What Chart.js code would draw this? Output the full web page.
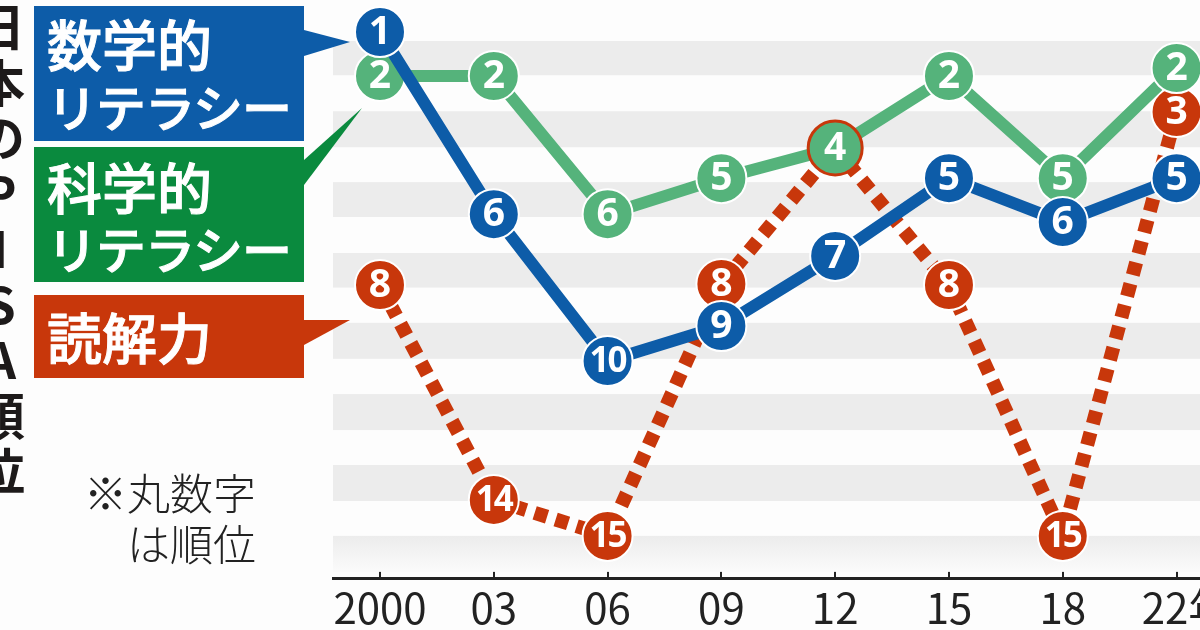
<!DOCTYPE html>
<html lang="ja">
<head>
<meta charset="utf-8">
<title>日本のPISA順位</title>
<script src="https://cdn.jsdelivr.net/npm/chart.js@4/dist/chart.umd.min.js"></script>
<style>
  html, body { margin: 0; padding: 0; background: #fdfdfd; }
  #wrap { position: relative; width: 1200px; height: 630px; overflow: hidden; font-family: "Noto Sans CJK JP", sans-serif; }
  #chart { position: absolute; left: 0; top: 0; }
  .box { position: absolute; left: 34px; width: 270px; color: #fff; font-weight: 500; }
  .box span { position: absolute; left: 13px; white-space: nowrap; font-size: 55px; line-height: 62px; -webkit-text-stroke: 1px #fff; }
  .box span.kata { font-size: 50px; letter-spacing: -1px; }
  .tail { position: absolute; left: 304px; width: 70px; height: 100px; }
  #title { position: absolute; left: -30px; top: 2px; writing-mode: vertical-rl; text-orientation: upright;
           font-size: 50px; font-weight: 700; line-height: 60px; letter-spacing: 5.5px; color: #1d1a1a; white-space: nowrap; }
  .note { position: absolute; font-size: 43px; font-weight: 300; color: #222; white-space: nowrap; line-height: 50px; }
</style>
</head>
<body>
<div id="wrap">
  <canvas id="chart" width="1200" height="630"></canvas>
  <div id="title">日本のPISA順位</div>

  <div class="box" style="top:6px;height:135px;background:#0d5ca8">
    <span style="top:5px">数学的</span><span class="kata" style="top:68px">リテラシー</span>
  </div>
  <div class="tail" style="top:20px;background:#0d5ca8;clip-path:polygon(0 10px,46px 22px,0 36px)"></div>

  <div class="box" style="top:147px;height:135px;background:#0a8a3e">
    <span style="top:7px">科学的</span><span class="kata" style="top:69px">リテラシー</span>
  </div>
  <div class="tail" style="top:100px;background:#0a8a3e;clip-path:polygon(0 60px,58px 8px,0 85px)"></div>

  <div class="box" style="top:295px;height:83px;background:#c8370b">
    <span style="top:9px">読解力</span>
  </div>
  <div class="tail" style="top:300px;background:#c8370b;clip-path:polygon(0 20px,46px 20px,0 45px)"></div>

  <div class="note" style="left:84px;top:466px">※丸数字</div>
  <div class="note" style="left:127px;top:517px">は順位</div>
</div>

<script>
const years = ['2000', '03', '06', '09', '12', '15', '18', '  22年'];

// Heights on a rank axis. The artist nudged some circles,
// so they are not whole numbers; the number inside each circle is the rounded rank.
const mathRanks = [1, 6.06, 10.14, 9.17, 7.22, 5.06, 6.28, 5.06];
const scienceRanks = [2.22, 2.22, 6.06, 5.06, 4.22, 2.22, 5.06, 2];
const readingRanks = [8.03, 14, 15, 8, 4.22, 8.03, 15, 3.22];

// Grey stripes behind the lines, in rank units [from, to]
const bands = [[1.25, 2.2], [3.2, 4.2], [5.17, 6.14], [7.14, 8.1], [9.08, 10.08], [11.06, 12.06], [13.03, 14.03]];
const fadedBand = [15, 16];

const BLUE = '#0d5ca8';
const GREEN = '#55b37b';
const RED = '#c8370b';
const INK = '#222';

const stripes = {
    id: 'stripes',
    beforeDatasetsDraw(chart) {
        const { ctx, chartArea, scales } = chart;
        const w = chartArea.right - chartArea.left;
        ctx.save();
        ctx.fillStyle = '#ececec';
        bands.forEach(b => {
            const top = scales.y.getPixelForValue(b[0]);
            ctx.fillRect(chartArea.left, top, w, scales.y.getPixelForValue(b[1]) - top);
        });
        const top = scales.y.getPixelForValue(fadedBand[0]);
        const bottom = scales.y.getPixelForValue(fadedBand[1]);
        const fade = ctx.createLinearGradient(0, top, 0, bottom);
        fade.addColorStop(0, '#ececec');
        fade.addColorStop(1, '#fbfbfb');
        ctx.fillStyle = fade;
        ctx.fillRect(chartArea.left, top, w, bottom - top);
        ctx.restore();
    }
};

// Rank number inside each circle, drawn right after its own dataset
const circleNumbers = {
    id: 'circleNumbers',
    afterDatasetDraw(chart, args) {
        const { ctx } = chart;
        const values = chart.data.datasets[args.index].data;
        ctx.save();
        ctx.fillStyle = '#fff';
        ctx.textAlign = 'center';
        ctx.textBaseline = 'middle';
        args.meta.data.forEach((pt, i) => {
            const rank = Math.round(values[i].y);
            ctx.font = (rank > 9 ? '700 35px' : '700 39px') + ' "Noto Sans", sans-serif';
            ctx.letterSpacing = rank > 9 ? '-2px' : '0px';
            ctx.fillText(String(rank), pt.x, pt.y + 1);
        });
        ctx.restore();
    }
};

function line(label, ranks, color, extra) {
    return Object.assign({
        label: label,
        data: ranks.map((r, i) => ({ x: i, y: r })),
        borderColor: color,
        borderWidth: 12,
        tension: 0,
        pointRadius: 25,
        pointHoverRadius: 25,
        pointBackgroundColor: color,
        pointBorderColor: '#fff',
        pointBorderWidth: 2,
        clip: false
    }, extra);
}

new Chart(document.getElementById('chart').getContext('2d'), {
    type: 'line',
    data: {
        datasets: [
            line('数学的リテラシー', mathRanks, BLUE),
            // 2012 circle sits on top of the reading circle, which shows as a red rim
            line('科学的リテラシー', scienceRanks, GREEN, {
                pointRadius: scienceRanks.map((v, i) => i === 4 ? 27 : 25),
                pointBorderColor: scienceRanks.map((v, i) => i === 4 ? RED : '#fff'),
                pointBorderWidth: scienceRanks.map((v, i) => i === 4 ? 3 : 2)
            }),
            line('読解力', readingRanks, RED, { borderDash: [13, 9], borderWidth: 14 })
        ]
    },
    plugins: [stripes, circleNumbers],
    options: {
        responsive: false,
        devicePixelRatio: 1,
        animation: false,
        layout: { autoPadding: false, padding: { left: 333 } },
        plugins: { legend: { display: false }, tooltip: { enabled: false } },
        scales: {
            x: {
                type: 'linear',
                min: -0.413,
                max: 7.206,
                afterFit: scale => { scale.height = 52; scale.paddingRight = 0; scale.paddingLeft = 0; },
                afterBuildTicks: scale => { scale.ticks = years.map((y, i) => ({ value: i })); },
                border: { color: INK, width: 3 },
                grid: { drawOnChartArea: false, color: INK, lineWidth: 2, tickLength: -8 },
                ticks: {
                    callback: (v) => years[v],
                    autoSkip: false,
                    maxRotation: 0,
                    padding: 13,
                    color: '#222',
                    font: { family: '"Noto Sans CJK JP"', size: 42 }
                }
            },
            y: {
                display: false,
                reverse: true,
                min: 0.11,
                max: 16.17
            }
        }
    }
});
</script>
</body>
</html>
